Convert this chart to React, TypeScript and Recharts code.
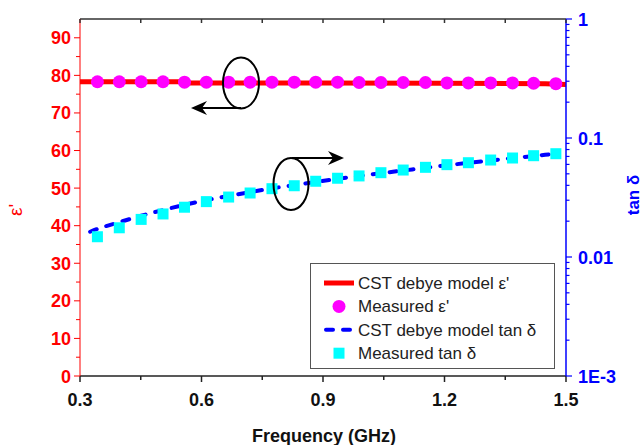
import React from 'react';
import { ComposedChart, Line, Scatter, XAxis, YAxis, Legend } from 'recharts';

// measured points (GHz)
const measFreq = [0.343, 0.397, 0.451, 0.505, 0.558, 0.612, 0.667, 0.72, 0.774, 0.829, 0.882, 0.936, 0.989, 1.043, 1.098, 1.153, 1.206, 1.259, 1.314, 1.368, 1.42, 1.475];
const measEps = [78.3, 78.3, 78.3, 78.3, 78.2, 78.2, 78.2, 78.2, 78.2, 78.2, 78.2, 78.2, 78.1, 78.1, 78.1, 78.1, 78.0, 78.0, 78.0, 78.0, 77.9, 77.8];
const measTan = [0.0148, 0.0176, 0.0207, 0.023, 0.0262, 0.0292, 0.0319, 0.0345, 0.0375, 0.0397, 0.0433, 0.0459, 0.048, 0.0511, 0.0538, 0.0567, 0.0597, 0.062, 0.0653, 0.0679, 0.071, 0.0738];

// CST debye model curves
const cstEpsFreq = [0.3, 0.55, 0.57, 0.9, 1.2, 1.45, 1.5];
const cstEps = [78.3, 78.3, 78.0, 78.0, 77.9, 77.8, 77.6];
const cstTanFreq = [0.325, 0.343, 0.397, 0.451, 0.505, 0.558, 0.612, 0.667, 0.72, 0.774, 0.829, 0.882, 0.936, 0.989, 1.043, 1.098, 1.153, 1.206, 1.259, 1.314, 1.368, 1.42, 1.48];
const cstTan = [0.0163, 0.0172, 0.0196, 0.0222, 0.0248, 0.0274, 0.03, 0.0326, 0.0351, 0.0377, 0.0402, 0.0428, 0.0454, 0.048, 0.0506, 0.0533, 0.0562, 0.059, 0.0618, 0.0648, 0.0677, 0.0706, 0.0741];

const xTicks = [0.3, 0.45, 0.6, 0.75, 0.9, 1.05, 1.2, 1.35, 1.5];
const xMajor = [0.3, 0.6, 0.9, 1.2, 1.5];
const epsTicks = [0, 5, 10, 15, 20, 25, 30, 35, 40, 45, 50, 55, 60, 65, 70, 75, 80, 85, 90];
const tanTicks = [0.001, 0.002, 0.003, 0.004, 0.005, 0.006, 0.007, 0.008, 0.009, 0.01, 0.02, 0.03, 0.04, 0.05, 0.06, 0.07, 0.08, 0.09, 0.1, 0.2, 0.3, 0.4, 0.5, 0.6, 0.7, 0.8, 0.9, 1];
const tanLabels: { [k: string]: string } = { '0.001': '1E-3', '0.01': '0.01', '0.1': '0.1', '1': '1' };

const legendItems = [
  { name: "CST debye model \u03b5'", kind: 'line' },
  { name: "Measured \u03b5'", kind: 'circle' },
  { name: 'CST debye model tan \u03b4', kind: 'dash' },
  { name: 'Measured tan \u03b4', kind: 'square' },
];

const epsLine = cstEpsFreq.map((f, i) => ({ f, v: cstEps[i] }));
const epsPts = measFreq.map((f, i) => ({ f, v: measEps[i] }));
const tanLine = cstTanFreq.map((f, i) => ({ f, v: cstTan[i] }));
const tanPts = measFreq.map((f, i) => ({ f, v: measTan[i] }));

const FONT = 'Liberation Sans, Arial, sans-serif';
const isXMajor = (v: number) => xMajor.some((m) => Math.abs(m - v) < 1e-6);

const BottomTick = (props: any) => {
  const { x, y, payload } = props;
  const major = isXMajor(payload.value);
  return (
    <g>
      <line x1={x} y1={y} x2={x} y2={y + (major ? 6 : 4)} stroke="#222" strokeWidth={1.5} />
      {major && (
        <text x={x} y={y + 30} textAnchor="middle" fontSize={18} fontWeight="bold" fill="#111" fontFamily={FONT}>
          {payload.value.toFixed(1)}
        </text>
      )}
    </g>
  );
};

const TopTick = (props: any) => {
  const { x, y } = props;
  return <line x1={x} y1={y} x2={x} y2={y + 4} stroke="#333" strokeWidth={1.5} />;
};

const LeftTick = (props: any) => {
  const { x, y, payload } = props;
  const major = payload.value % 10 === 0;
  return (
    <g>
      <line x1={x} y1={y} x2={x - (major ? 6 : 4)} y2={y} stroke="#ff0000" strokeWidth={1} />
      {major && (
        <text x={x - 9} y={y + 6.5} textAnchor="end" fontSize={18} fontWeight="bold" fill="#ff0000" fontFamily={FONT}>
          {payload.value}
        </text>
      )}
    </g>
  );
};

const RightTick = (props: any) => {
  const { x, y, payload } = props;
  const label = tanLabels[String(payload.value)];
  return (
    <g>
      <line x1={x} y1={y} x2={x + (label ? 6 : 3.5)} y2={y} stroke="#0000ff" strokeWidth={1.2} />
      {label && (
        <text x={x + 12} y={y + 6.5} textAnchor="start" fontSize={18} fontWeight="bold" fill="#0000ff" fontFamily={FONT}>
          {label}
        </text>
      )}
    </g>
  );
};

const LegendBox = () => (
  <svg width={245} height={106} style={{ display: 'block' }}>
    {legendItems.map((it, i) => {
      const cy = 19 + i * 23.4;
      return (
        <g key={it.name}>
          {it.kind === 'line' && <line x1={13} y1={cy} x2={43} y2={cy} stroke="#ff0000" strokeWidth={5} />}
          {it.kind === 'circle' && <circle cx={28} cy={cy} r={6.5} fill="#ff00ff" />}
          {it.kind === 'dash' && (
            <line x1={15} y1={cy} x2={43} y2={cy} stroke="#0000ff" strokeWidth={4} strokeDasharray="7 10" strokeLinecap="round" />
          )}
          {it.kind === 'square' && <rect x={22.5} y={cy - 5.5} width={11} height={11} fill="#00ffff" />}
          <text x={47} y={cy + 6} fontSize={17} fill="#222" fontFamily={FONT}>
            {it.name}
          </text>
        </g>
      );
    })}
  </svg>
);

const Arrow = ({ x1, x2, y }: { x1: number; x2: number; y: number }) => {
  const d = x2 > x1 ? 1 : -1;
  return (
    <g>
      <line x1={x1} y1={y} x2={x2 - d * 6} y2={y} stroke="#000" strokeWidth={2} />
      <path
        d={`M${x2},${y} L${x2 - d * 16},${y - 7} L${x2 - d * 11},${y} L${x2 - d * 16},${y + 7} Z`}
        fill="#000"
      />
    </g>
  );
};

export default function App() {
  return (
    <div style={{ position: 'absolute', left: 0, top: 0, width: 644, height: 445, background: '#fff', fontFamily: FONT }}>
      <ComposedChart width={644} height={445} margin={{ top: 18, right: 0, bottom: 0, left: 0 }}>
        <XAxis
          dataKey="f"
          type="number"
          domain={[0.3, 1.5]}
          ticks={xTicks}
          interval={0}
          height={69}
          tickSize={0}
          tickMargin={0}
          tick={<BottomTick />}
          axisLine={{ stroke: '#222', strokeWidth: 1.5 }}
          tickLine={false}
          allowDataOverflow
          label={{
            content: () => (
              <text x={324} y={442} textAnchor="middle" fontSize={18} fontWeight="bold" fill="#111" fontFamily={FONT}>
                Frequency (GHz)
              </text>
            ),
          }}
        />
        <XAxis
          xAxisId="top"
          orientation="top"
          dataKey="f"
          type="number"
          domain={[0.3, 1.5]}
          ticks={xTicks}
          interval={0}
          height={1}
          tickSize={0}
          tickMargin={0}
          tick={<TopTick />}
          axisLine={{ stroke: '#333', strokeWidth: 1.5 }}
          tickLine={false}
          allowDataOverflow
        />
        <YAxis
          yAxisId="eps"
          type="number"
          domain={[0, 95]}
          ticks={epsTicks}
          interval={0}
          width={80}
          tickSize={0}
          tickMargin={0}
          tick={<LeftTick />}
          axisLine={{ stroke: '#ff0000', strokeWidth: 1 }}
          tickLine={false}
          allowDataOverflow
          label={{
            content: () => (
              <text x={22} y={210} textAnchor="middle" fontSize={19} fill="#ff0000" fontFamily={FONT} transform="rotate(-90 22 210)">
                {"\u03b5'"}
              </text>
            ),
          }}
        />
        <YAxis
          yAxisId="tan"
          orientation="right"
          type="number"
          scale="log"
          domain={[0.001, 1]}
          ticks={tanTicks}
          interval={0}
          width={78}
          tickSize={0}
          tickMargin={0}
          tick={<RightTick />}
          axisLine={{ stroke: '#0000ff', strokeWidth: 1.5 }}
          tickLine={false}
          allowDataOverflow
          label={{
            content: () => (
              <text x={639} y={195} textAnchor="middle" fontSize={17} fontWeight="bold" fill="#0000ff" fontFamily={FONT} transform="rotate(-90 639 195)">
                tan δ
              </text>
            ),
          }}
        />
        <Line
          yAxisId="eps"
          data={epsLine}
          dataKey="v"
          type="linear"
          stroke="#ff0000"
          strokeWidth={5}
          dot={false}
          isAnimationActive={false}
        />
        <Line
          yAxisId="tan"
          data={tanLine}
          dataKey="v"
          type="monotone"
          stroke="#0000ff"
          strokeWidth={4}
          strokeDasharray="7 10"
          strokeLinecap="round"
          dot={false}
          isAnimationActive={false}
        />
        <Scatter
          yAxisId="eps"
          data={epsPts}
          dataKey="v"
          isAnimationActive={false}
          shape={(p: any) => <circle cx={p.cx} cy={p.cy} r={6.5} fill="#ff00ff" />}
        />
        <Scatter
          yAxisId="tan"
          data={tanPts}
          dataKey="v"
          isAnimationActive={false}
          shape={(p: any) => <rect x={p.cx - 5.5} y={p.cy - 5.5} width={11} height={11} fill="#00ffff" />}
        />
        <Legend
          layout="vertical"
          align="center"
          verticalAlign="middle"
          content={() => <LegendBox />}
          wrapperStyle={{
            left: 310,
            top: 263,
            width: 245,
            height: 106,
            border: '1px solid #555',
            background: '#fff',
            boxSizing: 'border-box',
            margin: 0,
          }}
        />
      </ComposedChart>
      <svg width={644} height={445} style={{ position: 'absolute', left: 0, top: 0, pointerEvents: 'none' }}>
        <ellipse cx={241} cy={83} rx={18} ry={25.5} fill="none" stroke="#000" strokeWidth={2} />
        <Arrow x1={241} x2={191} y={108} />
        <ellipse cx={291} cy={184} rx={17.5} ry={26} fill="none" stroke="#000" strokeWidth={2} />
        <Arrow x1={292} x2={344} y={158} />
      </svg>
    </div>
  );
}
